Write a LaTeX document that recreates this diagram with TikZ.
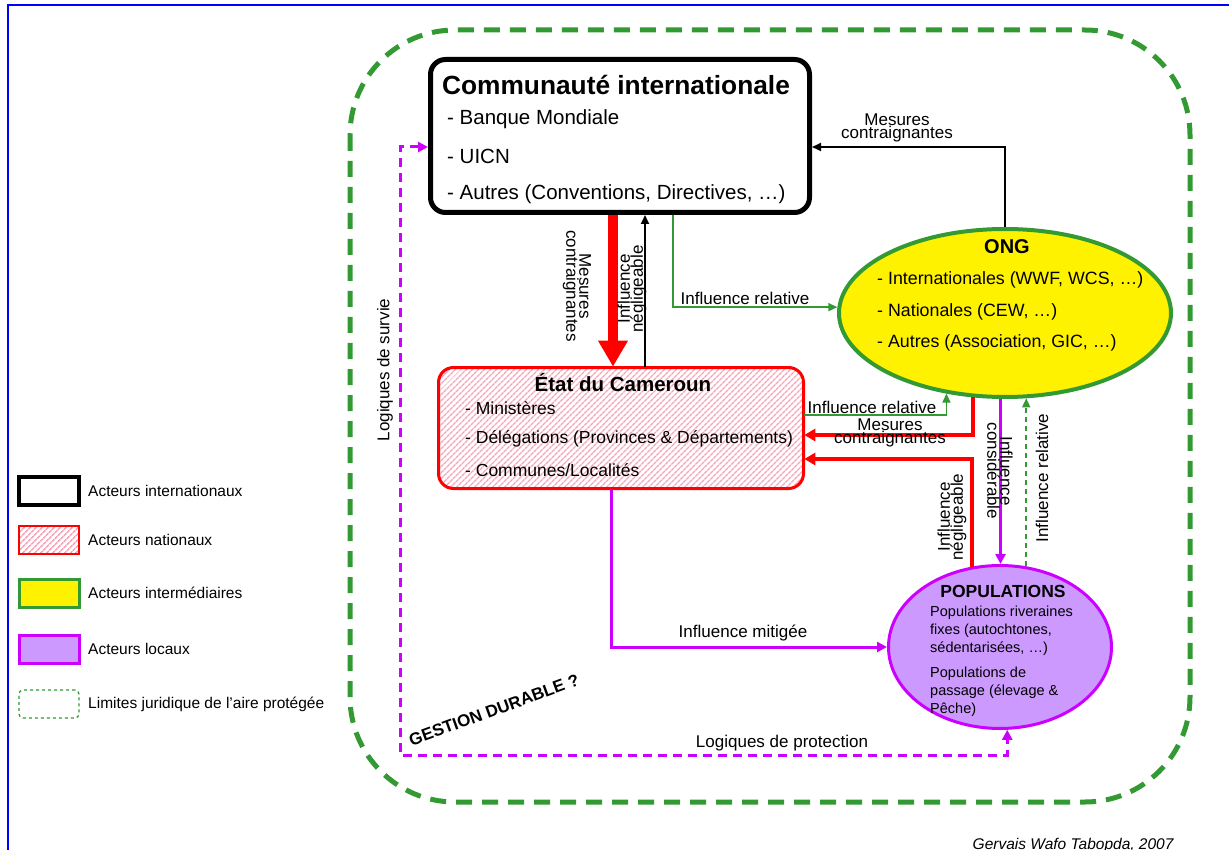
\documentclass[tikz,border=0pt]{standalone}
\usepackage{fontspec}
\setmainfont{Liberation Sans}
\usetikzlibrary{arrows.meta,shapes.geometric,patterns.meta}

\definecolor{ongreen}{RGB}{51,153,51}
\definecolor{locmag}{RGB}{204,0,255}
\definecolor{locfill}{RGB}{204,153,255}
\definecolor{hatchpink}{RGB}{245,165,185}

\newcommand{\fsz}[2]{\fontsize{#1}{#2}\selectfont}

\tikzset{
  hatch/.style={pattern={Lines[angle=45,distance=4pt,line width=1.6pt]},pattern color=hatchpink},
  intbox/.style={draw,line width=5pt,rounded corners=15pt,minimum width=379pt,minimum height=153pt},
  natbox/.style={draw=red,line width=3pt,rounded corners=15pt,hatch,minimum width=365pt,minimum height=121pt},
  ongell/.style={ellipse,draw=ongreen,line width=4pt,fill=yellow,minimum width=332pt,minimum height=168pt},
  popell/.style={ellipse,draw=locmag,line width=3pt,fill=locfill,minimum width=223pt,minimum height=163pt},
  limite/.style={draw=ongreen,line width=5pt,dash pattern=on 16pt off 10pt,rounded corners=105pt},
  item/.style={anchor=west,inner sep=0pt,font=\fsz{17.5}{20}},
  poptxt/.style={anchor=west,align=left,inner sep=0pt,font=\fsz{14.5}{18}},
  lbl/.style={align=center,inner sep=0pt,font=\fsz{17}{13}},
  blk/.style={draw=black,line width=1.8pt,-{Triangle[length=9pt,width=8pt]}},
  grn/.style={draw=ongreen,line width=1.5pt,-{Triangle[length=9pt,width=8pt]}},
  redbig/.style={draw=red,line width=10pt,-{Triangle[length=26pt,width=28pt]}},
  redmid/.style={draw=red,line width=4pt,-{Triangle[length=11pt,width=12pt]}},
  magline/.style={draw=locmag,line width=3pt,-{Triangle[length=10pt,width=10pt]}},
  magdash/.style={draw=locmag,line width=3pt,dash pattern=on 9pt off 6pt,{Triangle[length=10pt,width=10pt]}-{Triangle[length=10pt,width=10pt]}},
  legbox/.style={minimum width=60pt,minimum height=28pt,inner sep=0pt},
  legtxt/.style={anchor=west,inner sep=0pt,font=\fsz{15.5}{18}}
}

\newcommand{\legende}[4]{%
  % y, name, box style, text
  \node[legbox,#3] (#2) at (49,#1) {};
  \node[legtxt] (#2txt) at (88,#1) {#4};
}

\begin{document}
\begin{tikzpicture}[x=1pt,y=-1pt]
  \useasboundingbox (0,0) rectangle (1229,850);
  \draw[blue,line width=2pt] (8,850) -- (8,5) -- (1229,5);
  % limites de l'aire protegee
  \draw[limite] (350,30) rectangle (1190,802);

  % acteurs
  \node[intbox] (cint) at (620,136) {};
  \node[natbox] (etat) at (621,428) {};
  \node[ongell] (ong) at (1005,313) {};
  \node[popell] (pop) at (1000,647) {};

  \node[font=\fsz{26.3}{30}\bfseries] (cinttitle) at (616,85) {Communauté internationale};
  \foreach \t [count=\i from 0] in {Banque Mondiale,UICN,{Autres (Conventions, Directives, …)}}
    \node[item,font=\fsz{20.5}{24}] (cint\i) at (447,119+37.5*\i) {- \t};

  \node[font=\fsz{20.5}{24}\bfseries] (etattitle) at (623,383) {État du Cameroun};
  \foreach \t [count=\i from 0] in {Ministères,{Délégations (Provinces \& Départements)},Communes/Localités}
    \node[item] (etat\i) at (465,408+31*\i) {- \t};

  \node[font=\fsz{20}{24}\bfseries] (ongtitle) at (1007,247) {ONG};
  \foreach \t [count=\i from 0] in {{Internationales (WWF, WCS, …)},{Nationales (CEW, …)},{Autres (Association, GIC, …)}}
    \node[item,font=\fsz{17.8}{20}] (ong\i) at (877,280+31.5*\i) {- \t};

  \node[font=\fsz{17.5}{20}\bfseries] (poptitle) at (1003,591) {POPULATIONS};
  \node[poptxt] (popfix) at (930,631) {Populations riveraines\\fixes (autochtones,\\sédentarisées, …)};
  \node[poptxt] (poppas) at (930,692) {Populations de\\passage (élevage \&\\Pêche)};

  % niveaux des connecteurs
  \coordinate (xmes) at (613,0);
  \coordinate (xneg) at (645,0);
  \coordinate (xrel) at (673,0);
  \coordinate (xmit) at (611,0);
  \coordinate (xsurv) at (400,0);
  \coordinate (ymes) at (0,147);
  \coordinate (yrel) at (0,415);
  \coordinate (ycon) at (0,435);
  \coordinate (yneg) at (0,459);
  \coordinate (yprot) at (0,755);

  \draw[redbig] (xmes |- cint.south) -- (xmes |- etat.north);
  \draw[blk] (xneg |- etat.north) -- (xneg |- cint.south);
  \draw[grn] (xrel |- cint.south) |- (ong.178);
  \draw[blk] (ong.north) |- (cint.east |- ymes);
  \draw[grn] (etat.east |- yrel) -| (ong.234);
  \draw[redmid] (ong.249) |- (etat.east |- ycon);
  \draw[redmid] (pop.109) |- (etat.east |- yneg);
  \draw[magline] (ong.267) -- (ong.267 |- pop.north);
  \draw[grn,dash pattern=on 5pt off 4pt] (pop.72) -- (pop.72 |- ong.284);
  \draw[magline] (xmit |- etat.south) |- (pop.west);
  \draw[magdash] (cint.west |- ymes) -- (xsurv |- ymes) -- (xsurv |- yprot) -| (pop.275);

  % libelles
  \node[lbl,rotate=-90] (lmes1) at (577,286) {Mesures\\contraignantes};
  \node[lbl,rotate=90] (lneg1) at (632,289) {Influence\\négligeable};
  \node[lbl] (lrel1) at (745,298) {Influence relative};
  \node[lbl] (lmes2) at (897,128) {Mesures\\contraignantes};
  \node[lbl] (lrel2) at (872,407) {Influence relative};
  \node[lbl] (lmes3) at (890,433) {Mesures\\contraignantes};
  \node[lbl,rotate=90] (lneg2) at (952,517) {Influence\\négligeable};
  \node[lbl,rotate=-90] (lcons) at (1000,471) {Influence\\considérable};
  \node[lbl,rotate=90] (lrel3) at (1042,478) {Influence relative};
  \node[lbl] (lmit) at (743,633) {Influence mitigée};
  \node[lbl] (lprot) at (782,743) {Logiques de protection};
  \node[lbl,rotate=90] (lsurv) at (385,370) {Logiques de survie};
  \node[font=\fsz{17}{20}\bfseries,rotate=20] (gestion) at (494,710) {GESTION DURABLE ?};
  \node[font=\fsz{15.5}{18}\itshape,anchor=base east] (credit) at (1177,849) {Gervais Wafo Tabopda, 2007};

  % legende
  \legende{491}{legint}{draw=black,line width=4pt}{Acteurs internationaux}
  \legende{540}{legnat}{draw=red,line width=1.5pt,hatch}{Acteurs nationaux}
  \legende{593}{legong}{draw=ongreen,line width=3pt,fill=yellow}{Acteurs intermédiaires}
  \legende{649}{legloc}{draw=locmag,line width=3pt,fill=locfill}{Acteurs locaux}
  \legende{704}{leglim}{draw=ongreen,line width=1.3pt,dashed,rounded corners=4pt}{Limites juridique de l’aire protégée}
\end{tikzpicture}
\end{document}
